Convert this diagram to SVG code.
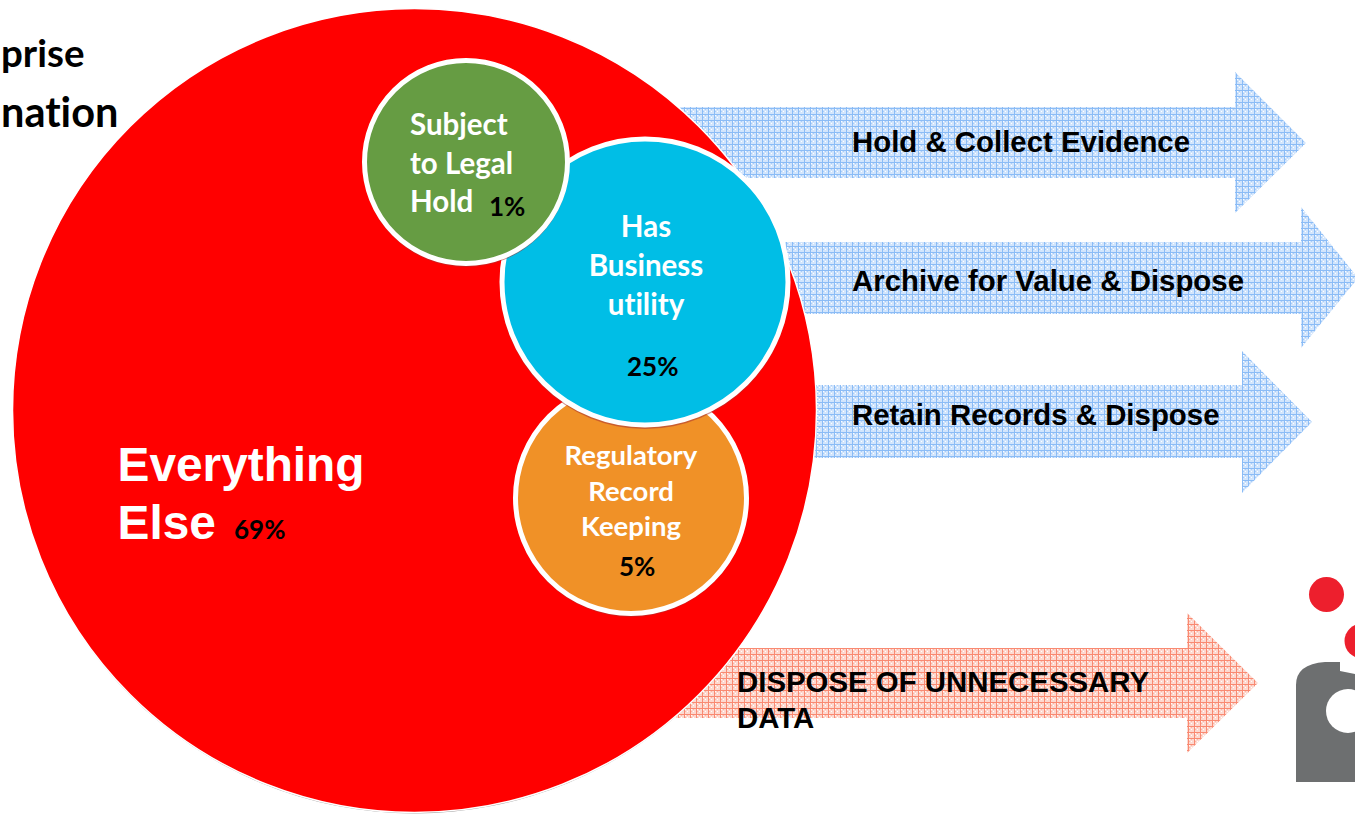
<svg xmlns="http://www.w3.org/2000/svg" width="1355" height="814" viewBox="0 0 1355 814">
<style>
.lbl{font-family:"Lato","Open Sans","Liberation Sans",sans-serif;font-weight:700;font-size:29.5px;fill:#fff;text-anchor:middle;font-variant-ligatures:none}
.sm{font-size:27.5px}
.pct{font-family:"Lato","Open Sans","Liberation Sans",sans-serif;font-weight:700;font-size:26px;fill:#000}
.arr{font-family:"Liberation Sans",Arial,sans-serif;font-weight:700;font-size:29.400px;fill:#000}
.ring{stroke:#fff;stroke-width:5}
.big{font-family:"Liberation Sans",Arial,sans-serif;font-weight:700;font-size:47.800px;fill:#fff}
.title{font-family:"Lato","Open Sans","Liberation Sans",sans-serif;font-weight:700;fill:#000;font-variant-ligatures:none}
.sh{fill:#a33;opacity:.55}
</style>
<defs>
<pattern id="blue" width="6" height="6" patternUnits="userSpaceOnUse">
<rect width="6" height="6" fill="#d2e5fc"/>
<rect x="1" y="1" width="1" height="1" fill="#fff"/>
<rect x="3" y="3" width="1" height="1" fill="#fff"/>
<rect x="3" y="1" width="1" height="1" fill="#a9cdf8"/>
<rect x="1" y="3" width="1" height="1" fill="#a9cdf8"/>
<rect width="6" height="1" fill="#8bbcf6"/>
<rect width="1" height="6" fill="#8bbcf6"/>
</pattern>
<pattern id="red" width="6" height="6" patternUnits="userSpaceOnUse">
<rect width="6" height="6" fill="#fdd9d0"/>
<rect x="1" y="1" width="1" height="1" fill="#fff"/>
<rect x="3" y="3" width="1" height="1" fill="#fff"/>
<rect x="3" y="1" width="1" height="1" fill="#fbb5a5"/>
<rect x="1" y="3" width="1" height="1" fill="#fbb5a5"/>
<rect width="6" height="1" fill="#f98a72"/>
<rect width="1" height="6" fill="#f98a72"/>
</pattern>
</defs>
<rect width="1355" height="814" fill="#fff"/>
<g id="connectors">
<polygon id="arrow-hold" fill="url(#blue)" points="680,107 1235,107 1235,72 1306,143 1235,213 1235,178 680,178"/>
<polygon id="arrow-archive" fill="url(#blue)" points="760,242 1301,242 1301,207 1358,278 1301,348 1301,314 760,314"/>
<polygon id="arrow-retain" fill="url(#blue)" points="790,385 1242,385 1242,351 1312,422 1242,493 1242,458 790,458"/>
<polygon id="arrow-dispose" fill="url(#red)" points="660,648 1187,648 1187,613 1258,683 1187,753 1187,718 660,718"/>
</g>
<g id="node-title">
<text class="title" x="1" y="67" font-size="38.500">prise</text>
<text class="title" x="1" y="127" font-size="41.500">nation</text>
</g>
<g id="node-everything">
<circle cx="414.5" cy="412" r="401.5" fill="#9a9a9a"/>
<circle cx="414.5" cy="410.5" r="402" fill="#f00" stroke="#fff" stroke-width="1.5"/>
<text class="big" x="117.500" y="481">Everything</text>
<text class="big" x="117.500" y="539">Else</text>
<text class="pct" x="234" y="539">69%</text>
</g>
<g id="node-regulatory">
<circle class="sh" cx="631" cy="500" r="117"/>
<circle cx="631" cy="498" r="115.500" fill="#f09127" class="ring"/>
<text class="lbl sm" x="631" y="465">Regulatory</text>
<text class="lbl sm" x="631" y="501">Record</text>
<text class="lbl sm" x="631" y="536">Keeping</text>
<text class="pct" x="619" y="576">5%</text>
</g>
<g id="node-business">
<circle class="sh" cx="645" cy="284" r="145"/>
<circle cx="645" cy="282" r="143" fill="#00bee6" class="ring"/>
<text class="lbl" x="646" y="237">Has</text>
<text class="lbl" x="646" y="276">Business</text>
<text class="lbl" x="646" y="315">utility</text>
<text class="pct" x="627" y="376">25%</text>
</g>
<g id="node-legal">
<circle class="sh" cx="466" cy="164" r="103"/>
<circle cx="466" cy="162" r="101.500" fill="#669c43" class="ring"/>
<text class="lbl" x="410" y="135" style="text-anchor:start">Subject</text>
<text class="lbl" x="410" y="174" style="text-anchor:start">to Legal</text>
<text class="lbl" x="410" y="212" style="text-anchor:start">Hold</text>
<text class="pct" x="489" y="216">1%</text>
</g>
<text class="arr" x="852" y="152">Hold &amp; Collect Evidence</text>
<text class="arr" x="852" y="291">Archive for Value &amp; Dispose</text>
<text class="arr" x="852" y="425">Retain Records &amp; Dispose</text>
<text class="arr" x="737" y="692">DISPOSE OF UNNECESSARY</text>
<text class="arr" x="737" y="728">DATA</text>
<g id="node-logo">
<circle cx="1326.500" cy="594.500" r="17.500" fill="#ed1f2d"/>
<circle cx="1362" cy="641" r="17.500" fill="#ed1f2d"/>
<path fill="#6d6f70" d="M1296 782V685Q1296 664 1325 662L1340 662V671L1355 674V782Z"/>
<circle cx="1348" cy="711" r="22" fill="#fff"/>
</g>
</svg>
